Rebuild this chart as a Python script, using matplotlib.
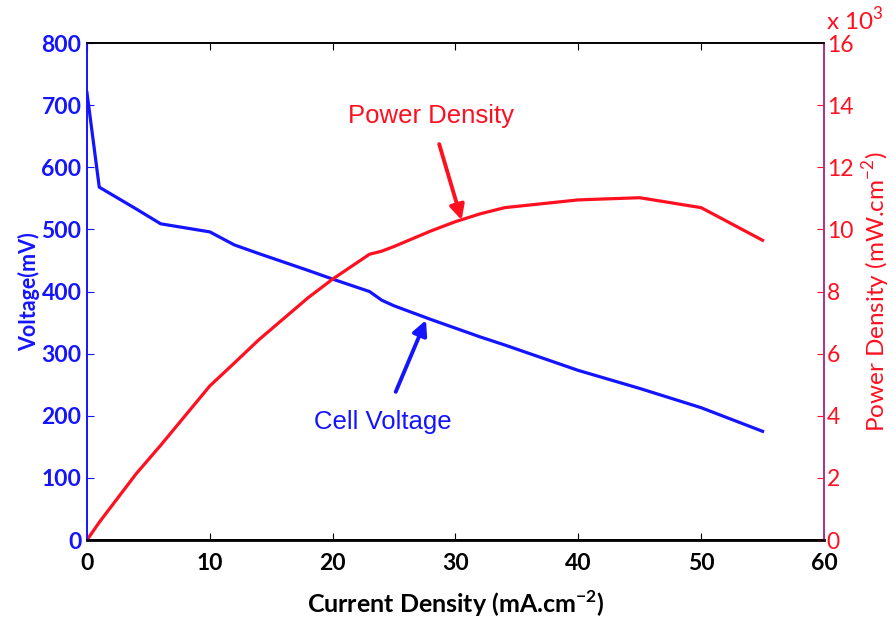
import matplotlib.pyplot as plt

# current density (mA.cm-2) and the two measured curves
current = [0, 1, 4, 6, 10, 12, 14, 18, 20, 23, 24, 25, 28, 30, 32, 34, 40, 45, 50, 55]
voltage = [720, 568, 533, 509, 496, 475, 461, 434, 420, 400, 386, 377, 355, 341, 327, 314, 273, 244, 213, 175]
power_density = [0, 570, 2130, 3050, 4960, 5700, 6450, 7800, 8400, 9200, 9300, 9450,
                 9950, 10250, 10500, 10700, 10950, 11020, 10700, 9650]

volt_ticks = [0, 100, 200, 300, 400, 500, 600, 700, 800]
power_ticks = [0, 2, 4, 6, 8, 10, 12, 14, 16]
x_ticks = [0, 10, 20, 30, 40, 50, 60]

blue = '#1414ff'
red = '#ff1020'
tick_font = 'Lato'

fig = plt.figure(figsize=(8.93, 6.2), dpi=100)
ax = fig.add_axes([0.0974, 0.129, 0.8253, 0.8016])
ax2 = ax.twinx()

ax.plot(current, voltage, color=blue, lw=2.3, solid_joinstyle='round')
ax2.plot(current, [p / 1000 for p in power_density], color=red, lw=2.3, solid_joinstyle='round')

ax.set_xlim(0, 60)
ax.set_ylim(0, 800)
ax2.set_ylim(0, 16)
ax.set_xticks(x_ticks)
ax.set_yticks(volt_ticks)
ax2.set_yticks(power_ticks)

ax.tick_params(axis='x', direction='in', length=5, top=True, pad=9,
               labelsize=16.5, colors='black')
ax.tick_params(axis='y', direction='in', length=5, pad=4, labelsize=16.5,
               colors=blue)
ax2.tick_params(axis='y', direction='in', length=5, pad=2, labelsize=16.5,
                colors=red)
for lab in ax.get_xticklabels() + ax.get_yticklabels():
    lab.set_fontfamily(tick_font)
    lab.set_fontweight('bold')
for lab in ax2.get_yticklabels():
    lab.set_fontfamily(tick_font)

for a in (ax, ax2):
    a.spines['left'].set_color(blue)
    a.spines['right'].set_color('#b0308a')
    a.spines['top'].set_color('black')
    a.spines['bottom'].set_color('black')
    for s in a.spines.values():
        s.set_linewidth(1.2)
ax.spines['bottom'].set_linewidth(2)

ax.set_xlabel('Current Density (mA.cm$^{\\mathregular{-2}}$)', fontsize=18,
              fontfamily=tick_font, fontweight='bold', labelpad=11)
ax.set_ylabel('Voltage(mV)', fontsize=15.5, fontfamily=tick_font,
              fontweight='bold', color=blue, labelpad=1)
ax2.set_ylabel('Power Density (mW.cm$^{\\mathregular{-2}}$)', fontsize=17.5,
               fontfamily=tick_font, color=red, labelpad=5)

fig.text(0.925, 0.951, 'x 10$^{\\mathregular{3}}$', fontsize=17.5, fontfamily=tick_font,
         color=red, ha='left', va='baseline')

# curve annotations with arrows
ax2.annotate('Power Density', xy=(30.5, 10.3), xytext=(28, 13.65),
             fontsize=18.5, fontfamily='Liberation Sans', color=red,
             ha='center', va='center',
             arrowprops=dict(arrowstyle='-|>', color=red, lw=2.8,
                             mutation_scale=22, shrinkA=10, shrinkB=0))
ax.annotate('Cell Voltage', xy=(27.6, 354), xytext=(24.1, 190),
            fontsize=18.5, fontfamily='Liberation Sans', color=blue,
            ha='center', va='center',
            arrowprops=dict(arrowstyle='-|>', color=blue, lw=2.8,
                            mutation_scale=22, shrinkA=12, shrinkB=0))

plt.savefig('out.png', dpi=100)
